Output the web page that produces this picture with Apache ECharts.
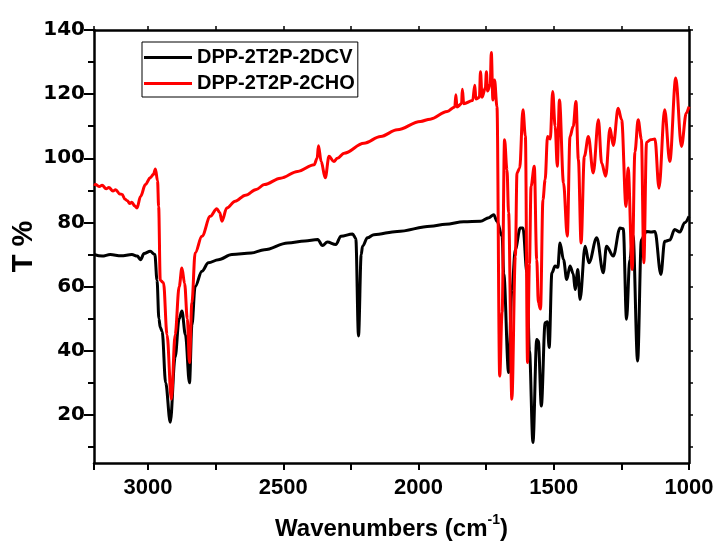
<!DOCTYPE html>
<html>
<head>
<meta charset="utf-8">
<script src="https://cdn.jsdelivr.net/npm/echarts@6/dist/echarts.min.js"></script>
<style>
  html, body { margin: 0; padding: 0; background: #fff; }
  #chart { width: 716px; height: 545px; }
</style>
</head>
<body>
<div id="chart"></div>
<script>
// wavenumber (cm-1), T %
var dcvData = [
  [3200,70],[3170,69.5],[3140,70],[3100,69.6],[3060,70],[3040,69.5],[3028,68.4],[3015,70.3],[2992,71],[2975,70],
  [2967,62],[2960,50],[2955,47.3],[2948,46],[2935,30],[2918,17.7],[2900,38],[2885,50],[2875,52.4],[2862,45],
  [2847,30],[2838,48],[2826,60],[2801,64.8],[2777,67.4],[2740,68.4],[2690,70],[2619,70.5],[2570,71.5],[2484,73.6],
  [2420,74.2],[2373,74.7],[2355,72.8],[2337,73.9],[2306,73.1],[2287,75.7],[2244,76.4],[2232,75],[2222,44.6],[2212,70],
  [2207,72.6],[2189,75.2],[2165,76.2],[2079,77.2],[1956,78.8],[1900,79.4],[1833,80.2],[1771,80.4],[1740,81.5],[1722,82.4],
  [1710,80.4],[1691,75.7],[1685,64],[1667,33.2],[1655,59],[1642,71.6],[1624,78.3],[1614,78.3],[1599,64.3],[1590,40],
  [1577,11.4],[1563,43.5],[1557,43],[1546,22.8],[1532,48.7],[1524,49],[1517,41],[1507,64.3],[1495,66.4],[1485,66],
  [1477,73.6],[1464,68.4],[1452,62.2],[1440,66.4],[1428,64],[1421,59.1],[1411,65.3],[1403,56],[1384,72.6],[1370,67.4],
  [1341,75.2],[1317,64.3],[1305,72.6],[1280,69.5],[1255,78.3],[1243,78],[1231,49.8],[1219,68.4],[1207,76],[1190,36.8],
  [1176,74.7],[1157,77.2],[1139,77],[1126,77.2],[1104,63.8],[1090,74.1],[1071,74.5],[1053,77.8],[1034,77],[1016,79.9],
  [1000,81.9]
];

var choData = [
  [3200,92],[3194,91.8],[3180,91.2],[3170,91.6],[3155,90.5],[3145,90.9],[3130,89.8],[3120,90.2],[3105,88.9],[3096,88.7],
  [3085,87.2],[3077,86.8],[3068,85.9],[3060,86.3],[3050,85.2],[3041,84.5],[3028,88.1],[3010,91.8],[2992,93.9],[2980,95],
  [2973,96.7],[2965,93],[2961,85],[2955,62],[2943,61.2],[2930,45],
  [2914,24.9],[2900,45],[2885,60],[2875,65.8],[2865,61],[2855,50],[2847,36.3],[2838,55],[2826,70.5],[2801,75.7],
  [2770,81.9],[2746,84.3],[2735,83],[2727,80.4],[2709,84.5],[2678,86.6],[2640,88.5],[2600,90.3],[2570,91.8],[2510,93.8],
  [2447,95.9],[2386,98],[2375,100],[2370,103.9],[2360,99],[2345,93.9],[2331,100.6],[2313,99],[2300,100],[2275,101.6],
  [2202,104.7],[2140,106.8],[2079,108.9],[1993,111.5],[1957,112.2],[1894,114.6],[1866,116],[1862,119.8],[1858,116],[1841,117],
  [1838,121.5],[1833,117],[1800,118],[1792,122.8],[1788,118.5],[1775,119],[1771,127],[1765,119],[1753,122],[1749,127],
  [1745,121],[1735,123],[1731,133],[1725,118.2],[1719,124.4],[1710,116.1],[1700,32.1],[1691,52],[1682,105.8],[1673,96.4],
  [1667,83],[1655,24.9],[1642,69.5],[1636,95.4],[1626,97],[1614,115.1],[1605,107],[1597,36.3],[1590,67],[1584,91.3],
  [1572,97.5],[1563,68.4],[1557,55],[1549,53],[1540,87.1],[1532,93.3],[1523,106.8],[1513,106],[1504,120.8],[1495,110],
  [1487,97.5],[1479,118.2],[1464,92.3],[1450,75.7],[1440,106.8],[1428,110],[1418,117.7],[1409,99.6],[1399,73.6],[1387,100.6],
  [1372,106.8],[1354,95.4],[1335,112],[1323,98.5],[1308,94.4],[1292,109.4],[1280,104],[1262,115.6],[1249,112],[1233,85],
  [1225,97],[1210,65.3],[1200,102],[1188,112],[1176,106],[1167,67.4],[1157,105],[1142,105.8],[1126,106],[1111,90.7],
  [1090,115.1],[1071,99],[1049,125],[1028,103.7],[1010,114.1],[1000,116.1]
];

var seriesNames = ['DPP-2T2P-2DCV', 'DPP-2T2P-2CHO'];
var yLabelValues = [20, 40, 60, 80, 100, 120, 140];
var yMinorValues = [10, 30, 50, 70, 90, 110, 130];
var yRightValues = [10, 20, 30, 40, 50, 60, 70, 80, 90, 100, 110, 120, 130, 140];

var font = 'Liberation Sans, Arial, sans-serif';
var chart = echarts.init(document.getElementById('chart'));

var frameLine = { show: true, onZero: false, lineStyle: { color: '#000', width: 2.5 } };

var option = {
  backgroundColor: '#fff',
  animation: false,
  grid: { left: 94, right: 27, top: 30, bottom: 82, outerBoundsMode: 'none' },
  legend: {
    orient: 'vertical',
    left: 142,
    top: 42,
    data: seriesNames,
    icon: 'rect',
    itemWidth: 48,
    itemHeight: 3,
    itemGap: 5,
    padding: [5, 3, 3, 2],
    borderColor: '#000',
    borderWidth: 1,
    textStyle: { fontFamily: font, fontWeight: 'bold', fontSize: 20, color: '#000', lineHeight: 21 }
  },
  xAxis: [
    {
      type: 'value',
      min: 1000, max: 3200, interval: 500,
      inverse: true,
      position: 'bottom',
      axisLine: frameLine,
      axisTick: { inside: false, length: 7, lineStyle: { color: '#000', width: 2 } },
      minorTick: { show: true, splitNumber: 2, length: 7, lineStyle: { color: '#000', width: 2 } },
      splitLine: { show: false },
      axisLabel: { margin: 14, fontFamily: font, fontWeight: 'bold', fontSize: 22, color: '#000',
        showMinLabel: true, showMaxLabel: false,
        formatter: function (v) { return String(v); } },
      name: '{a|Wavenumbers (cm}{s|-1}{a|)}',
      nameLocation: 'middle',
      nameGap: 50,
      nameMoveOverlap: false,
      nameTextStyle: {
        rich: {
          a: { fontFamily: font, fontWeight: 'bold', fontSize: 24, color: '#000', verticalAlign: 'bottom', lineHeight: 28 },
          s: { fontFamily: font, fontWeight: 'bold', fontSize: 14, color: '#000', verticalAlign: 'top', lineHeight: 28 }
        }
      }
    },
    {
      type: 'value',
      min: 1000, max: 3200, interval: 250,
      inverse: true,
      position: 'top',
      axisLine: frameLine,
      axisTick: { inside: false, length: 4, lineStyle: { color: '#000', width: 1.5 } },
      axisLabel: { show: false },
      splitLine: { show: false }
    }
  ],
  yAxis: [
    {
      type: 'value',
      min: 5, max: 140,
      position: 'left',
      axisLine: frameLine,
      axisTick: { inside: false, length: 10, customValues: yLabelValues, lineStyle: { color: '#000', width: 2 } },
      axisLabel: { margin: 9, customValues: yLabelValues, fontFamily: 'DejaVu Sans, sans-serif', fontWeight: 'bold', fontSize: 20, color: '#000' },
      splitLine: { show: false },
      name: 'T %',
      nameLocation: 'middle',
      nameGap: 56,
      nameMoveOverlap: false,
      nameTextStyle: { fontFamily: font, fontWeight: 'bold', fontSize: 29, color: '#000' }
    },
    {
      type: 'value',
      min: 5, max: 140,
      position: 'left',
      axisLine: { show: false },
      axisTick: { inside: false, length: 6, customValues: yMinorValues, lineStyle: { color: '#000', width: 2 } },
      axisLabel: { show: false, customValues: yMinorValues },
      splitLine: { show: false }
    },
    {
      type: 'value',
      min: 5, max: 140,
      position: 'right',
      axisLine: frameLine,
      axisTick: { inside: false, length: 4, customValues: yRightValues, lineStyle: { color: '#000', width: 1.5 } },
      axisLabel: { show: false, customValues: yRightValues },
      splitLine: { show: false }
    }
  ],
  series: [
    {
      name: seriesNames[0],
      type: 'line',
      data: dcvData,
      symbol: 'none',
      smooth: 0.35,
      smoothMonotone: 'x',
      lineStyle: { color: '#000', width: 3 },
      itemStyle: { color: '#000' }
    },
    {
      name: seriesNames[1],
      type: 'line',
      data: choData,
      symbol: 'none',
      smooth: 0.35,
      smoothMonotone: 'x',
      lineStyle: { color: '#ff0000', width: 3 },
      itemStyle: { color: '#ff0000' }
    }
  ]
};

chart.setOption(option);
</script>
</body>
</html>
